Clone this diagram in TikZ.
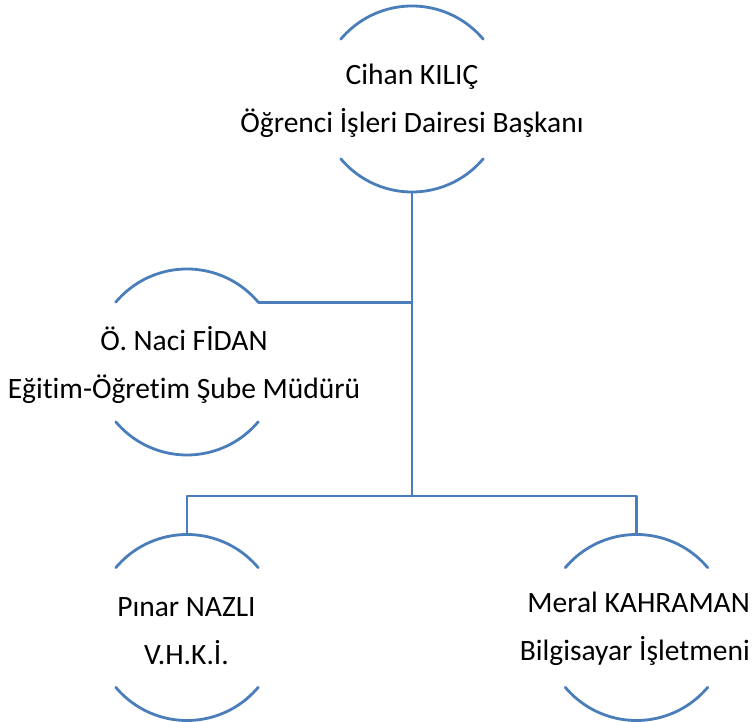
\documentclass[tikz,border=0pt]{standalone}
\usepackage{fontspec}
\setmainfont{Carlito}[Ligatures=NoCommon]
\usepackage{xcolor}
\definecolor{orgblue}{HTML}{4A7EBB}
\usetikzlibrary{calc,positioning}
\tikzset{
  ring/.style={circle, minimum size=186pt, inner sep=0pt, outer sep=0pt},
  arcs/.style={draw=orgblue, line width=2.8pt},
  link/.style={draw=orgblue, line width=2.8pt},
  who/.style={align=center, inner sep=0pt, font=\fontsize{29.5}{48}\selectfont},
  every picture/.style={line cap=round, line join=round}
}
\newcommand{\halfrings}[1]{%
  \draw[arcs] (#1.40) arc[start angle=40, end angle=140, radius=93pt];
  \draw[arcs] (#1.220) arc[start angle=220, end angle=320, radius=93pt];}

\begin{document}
\begin{tikzpicture}[x=1pt, y=1pt]
  \useasboundingbox (0,0) rectangle (755,722);

  % Head
  \node[ring] (kilic) at (412,623) {};
  \node[who] (kilic-t) at (412,621) {Cihan KILIÇ\\Öğrenci İşleri Dairesi Başkanı};
  \halfrings{kilic}

  % Assistant
  \node[ring] (naci) at (187,360) {};
  \node[who] (naci-t) at (184,357) {Ö. Naci FİDAN\\Eğitim-Öğretim Şube Müdürü};
  \halfrings{naci}

  % Staff
  \node[ring] (pinar) at (187,94.5) {};
  \node[who] (pinar-t) at (186.5,91) {Pınar NAZLI\\V.H.K.İ.};
  \halfrings{pinar}

  \node[ring] (meral) at (636.5,94.5) {};
  \node[who, align=right, anchor=east] (meral-t) at (750,93) {Meral KAHRAMAN\\Bilgisayar İşletmeni};
  \halfrings{meral}

  % Connectors
  \coordinate (bus) at (412,226);
  \draw[link] (kilic.south) -- (bus);
  \draw[link] (naci.40) -- (naci.40 -| bus);
  \draw[link] (bus) -| (pinar.north);
  \draw[link] (bus) -| (meral.north);
\end{tikzpicture}
\end{document}
